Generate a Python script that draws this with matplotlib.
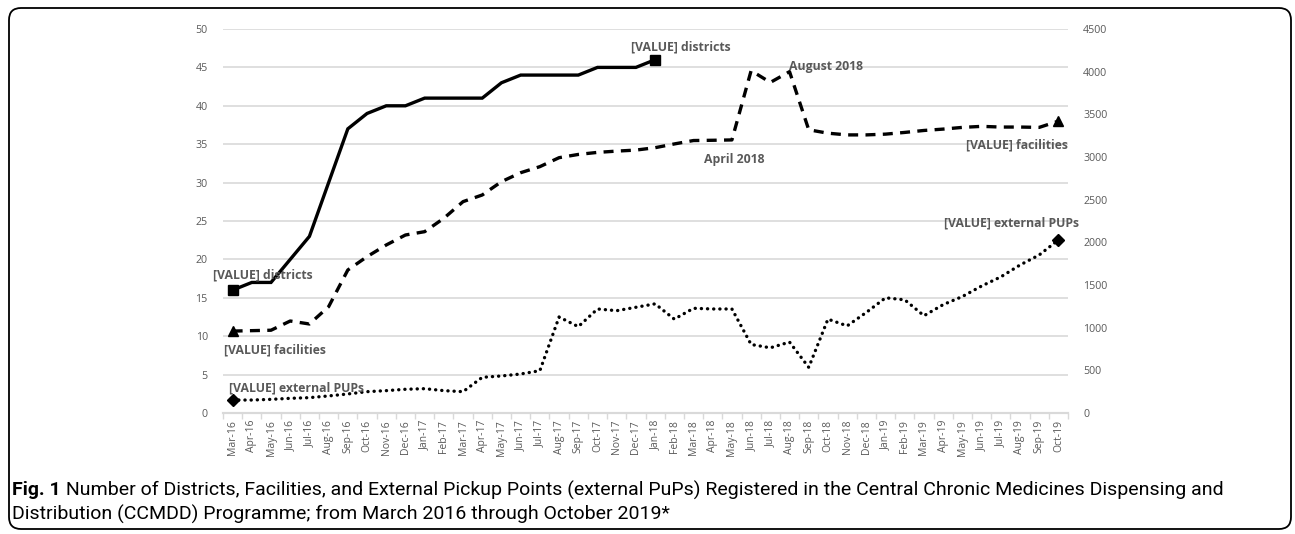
import matplotlib
matplotlib.use("Agg")
import matplotlib.pyplot as plt
from matplotlib.patches import FancyBboxPatch
from matplotlib.transforms import IdentityTransform

months = ["Mar-16", "Apr-16", "May-16", "Jun-16", "Jul-16", "Aug-16", "Sep-16", "Oct-16",
          "Nov-16", "Dec-16", "Jan-17", "Feb-17", "Mar-17", "Apr-17", "May-17", "Jun-17",
          "Jul-17", "Aug-17", "Sep-17", "Oct-17", "Nov-17", "Dec-17", "Jan-18", "Feb-18",
          "Mar-18", "Apr-18", "May-18", "Jun-18", "Jul-18", "Aug-18", "Sep-18", "Oct-18",
          "Nov-18", "Dec-18", "Jan-19", "Feb-19", "Mar-19", "Apr-19", "May-19", "Jun-19",
          "Jul-19", "Aug-19", "Sep-19", "Oct-19"]

districts = [16, 17, 17, 20, 23, 30, 37, 39, 40, 40, 41, 41, 41, 41, 43, 44, 44, 44, 44,
             45, 45, 45, 46]

facilities = [960, 965, 970, 1078, 1043, 1246, 1676, 1832, 1969, 2086, 2125, 2282, 2477,
              2555, 2711, 2816, 2887, 2992, 3030, 3054, 3069, 3081, 3109, 3153, 3193, 3196,
              3200, 4012, 3874, 4000, 3319, 3279, 3259, 3259, 3268, 3288, 3311, 3327, 3347,
              3359, 3351, 3351, 3347, 3420]

pups = [152, 152, 160, 172, 180, 200, 223, 250, 262, 278, 285, 262, 250, 418, 434, 457,
        496, 1125, 1012, 1219, 1199, 1239, 1279, 1100, 1227, 1219, 1219, 803, 764, 831,
        535, 1100, 1021, 1179, 1350, 1326, 1140, 1270, 1365, 1488, 1595, 1734, 1852, 2028]

left_ticks = list(range(0, 51, 5))
right_ticks = list(range(0, 4501, 500))

caption_bold = "Fig. 1"
caption_line1 = (" Number of Districts, Facilities, and External Pickup Points (external PuPs) "
                 "Registered in the Central Chronic Medicines Dispensing and")
caption_line2 = "Distribution (CCMDD) Programme; from March 2016 through October 2019*"

GRAY = "#595959"
GRID = "#d9d9d9"
TICKFONT = ["Open Sans", "DejaVu Sans"]
LABELFONT = ["Open Sans", "DejaVu Sans"]
CAPFONT = ["Roboto", "DejaVu Sans"]

W, H = 1295, 534
fig = plt.figure(figsize=(W / 100, H / 100), dpi=100)
ax = fig.add_axes([223 / W, 1 - 413 / H, (1068 - 223) / W, (413 - 29) / H])
ax2 = ax.twinx()

x_all = list(range(len(months)))
x_d = list(range(len(districts)))

ax.set_xlim(-0.5, len(months) - 0.5)
ax.set_ylim(0, 50)
ax2.set_ylim(0, 4500)
ax.set_yticks(left_ticks)
ax2.set_yticks(right_ticks)
ax.yaxis.grid(True, color=GRID, linewidth=1.2)
ax.set_axisbelow(True)

for a in (ax, ax2):
    for s in ("top", "left", "right"):
        a.spines[s].set_visible(False)
    a.spines["bottom"].set_color(GRID)
    a.spines["bottom"].set_linewidth(1.5)
    a.tick_params(axis="y", length=0, labelcolor=GRAY, labelsize=7.7)
ax.tick_params(axis="y", pad=11)
ax2.tick_params(axis="y", pad=11)
for lab in ax.get_yticklabels() + ax2.get_yticklabels():
    lab.set_fontfamily(TICKFONT)

ax.set_xticks(x_all)
ax.set_xticklabels(months, rotation=90, fontsize=7.5, color=GRAY, family=TICKFONT)
ax.set_xticks([i - 0.5 for i in range(len(months) + 1)], minor=True)
ax.tick_params(axis="x", which="major", length=0, pad=5)
ax.tick_params(axis="x", which="minor", length=4, color=GRID, width=1)

ax.plot(x_d, districts, color="black", linewidth=2.4, solid_joinstyle="miter",
        marker="s", markevery=[0, len(districts) - 1], markersize=7.5, zorder=3)
ax2.plot(x_all, facilities, color="black", linewidth=2.4, linestyle=(0, (3.0, 2.2)),
         marker="^", markevery=[0, len(facilities) - 1], markersize=7.5)
ax2.plot(x_all, pups, color="black", linewidth=2.4, linestyle=(0, (0.05, 1.8)),
         dash_capstyle="round", marker="D", markevery=[0, len(pups) - 1], markersize=6)

pt = 0.72
lab_kw = dict(textcoords="offset points", color=GRAY, fontsize=8.8, fontweight="bold",
              family=LABELFONT, va="center")
ax.annotate("[VALUE] districts", (0, districts[0]), xytext=(-19.6 * pt, 14.7 * pt),
            ha="left", **lab_kw)
ax.annotate("[VALUE] districts", (len(districts) - 1, districts[-1]),
            xytext=(26 * pt, 12.8 * pt), ha="center", **lab_kw)
ax2.annotate("[VALUE] facilities", (0, facilities[0]), xytext=(-8.6 * pt, -19.3 * pt),
             ha="left", **lab_kw)
ax2.annotate("[VALUE] facilities", (len(facilities) - 1, facilities[-1]),
             xytext=(9 * pt, -23.6 * pt), ha="right", **lab_kw)
ax2.annotate("April 2018", (26, facilities[26]), xytext=(2 * pt, -19.6 * pt),
             ha="center", **lab_kw)
ax2.annotate("August 2018", (29, facilities[29]), xytext=(-1 * pt, 5.4 * pt),
             ha="left", **lab_kw)
ax2.annotate("[VALUE] external PUPs", (0, pups[0]), xytext=(-3.6 * pt, 12 * pt),
             ha="left", **lab_kw)
ax2.annotate("[VALUE] external PUPs", (len(pups) - 1, pups[-1]),
             xytext=(21 * pt, 17 * pt), ha="right", **lab_kw)

# frame
frame = FancyBboxPatch((9, 5), 1282, 521, boxstyle="round,pad=0,rounding_size=12",
                       transform=IdentityTransform(), fill=False, edgecolor="black",
                       linewidth=1.3)
fig.add_artist(frame)

# caption
cap_size = 14
t1 = fig.text(12 / W, 1 - 490 / H, caption_bold, fontsize=cap_size, fontweight="bold",
              family=CAPFONT, va="center", ha="left")
fig.canvas.draw()
bb = t1.get_window_extent(renderer=fig.canvas.get_renderer())
fig.text(bb.x1 / W, 1 - 490 / H, caption_line1, fontsize=cap_size, family=CAPFONT,
         va="center", ha="left")
fig.text(12 / W, 1 - 514 / H, caption_line2, fontsize=cap_size, family=CAPFONT,
         va="center", ha="left")

fig.savefig("out.png", dpi=100)
